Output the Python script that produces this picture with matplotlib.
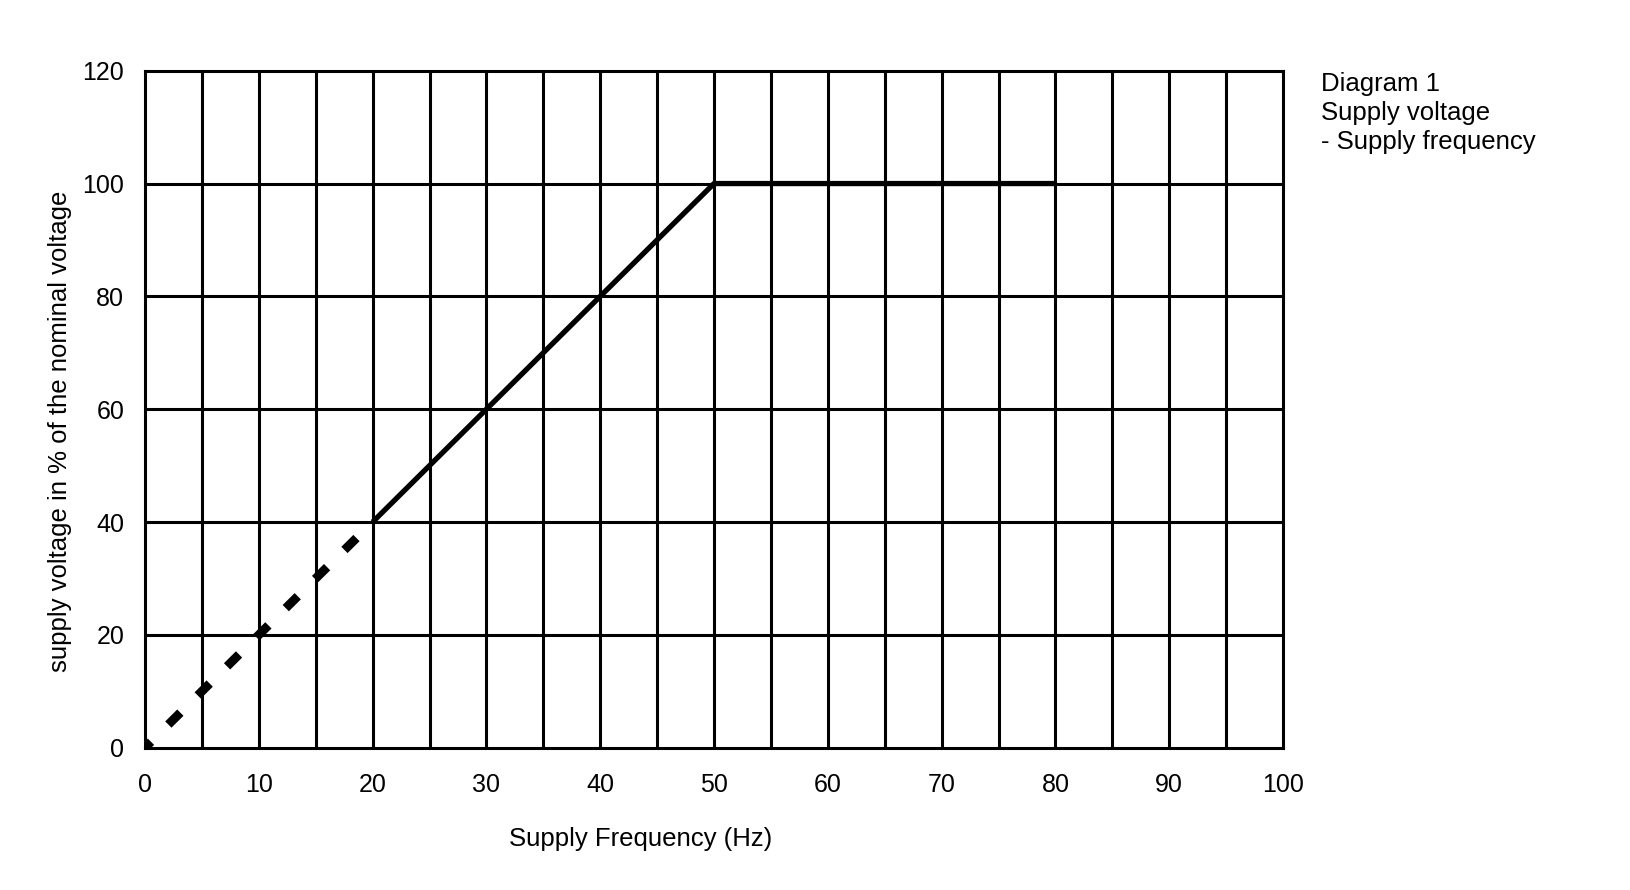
import numpy as np
import matplotlib.pyplot as plt

plt.rcParams['font.family'] = ['Liberation Sans', 'DejaVu Sans']

# data
freq_dashed = [0, 20]
volt_dashed = [0, 40]
freq_solid = [20, 50, 80]
volt_solid = [40, 100, 100]
x_ticks = [0, 10, 20, 30, 40, 50, 60, 70, 80, 90, 100]
y_ticks = [0, 20, 40, 60, 80, 100, 120]

fig = plt.figure(figsize=(16.3, 8.9), dpi=100)
ax = fig.add_axes([145/1630, 1-747.7/890, (1283-145)/1630, (747.7-70.7)/890])

# grid every 5 Hz / 20 %
for gx in np.arange(5, 100, 5):
    ax.axvline(gx, color='black', lw=2.2, zorder=1)
for gy in np.arange(20, 120, 20):
    ax.axhline(gy, color='black', lw=2.2, zorder=1)

# extrapolated part below 20 Hz
ax.plot(freq_dashed, volt_dashed, color='black', lw=6.4,
        linestyle=(0.95, (1.9, 2.75)), dash_capstyle='butt', zorder=3)
ax.plot(freq_solid, volt_solid, color='black', lw=3.8, zorder=3, solid_capstyle='butt')

ax.set_xlim(0, 100)
ax.set_ylim(0, 120)
ax.set_xticks(x_ticks)
ax.set_yticks(y_ticks)
ax.tick_params(length=0, labelsize=18)
ax.tick_params(axis='x', pad=18)
ax.tick_params(axis='y', pad=15)
for s in ax.spines.values():
    s.set_linewidth(2.2)

ax.set_xlabel('Supply Frequency (Hz)', fontsize=18.5)
ax.xaxis.set_label_coords((641-145)/1138, 1-(827-70.7)/677)
ax.set_ylabel('supply voltage in % of the nominal voltage', fontsize=18.5)
ax.yaxis.set_label_coords((72-145)/1138, 1-(431-70.7)/677)

fig.text(1321/1630, 1-72/890, 'Diagram 1\nSupply voltage\n- Supply frequency',
         fontsize=18.5, va='top', ha='left', linespacing=1.27)

fig.savefig('out.png', dpi=100)
